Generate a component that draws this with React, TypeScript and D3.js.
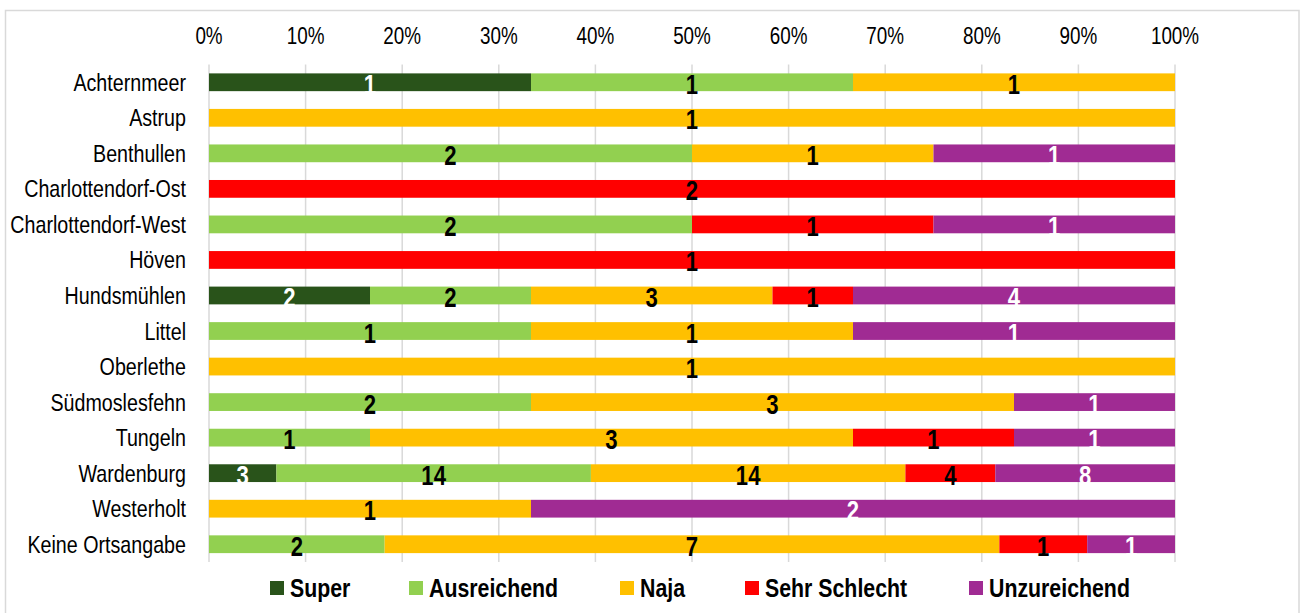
import { useEffect, useRef } from 'react'
import * as d3 from 'd3'

// Locations (top to bottom)
const locations = [
	'Achternmeer',
	'Astrup',
	'Benthullen',
	'Charlottendorf-Ost',
	'Charlottendorf-West',
	'Höven',
	'Hundsmühlen',
	'Littel',
	'Oberlethe',
	'Südmoslesfehn',
	'Tungeln',
	'Wardenburg',
	'Westerholt',
	'Keine Ortsangabe',
]

const categories = ['Super', 'Ausreichend', 'Naja', 'Sehr Schlecht', 'Unzureichend']

// Counts per location, one array per category
const superVals = [1, 0, 0, 0, 0, 0, 2, 0, 0, 0, 0, 3, 0, 0]
const ausreichendVals = [1, 0, 2, 0, 2, 0, 2, 1, 0, 2, 1, 14, 0, 2]
const najaVals = [1, 1, 1, 0, 0, 0, 3, 1, 1, 3, 3, 14, 1, 7]
const sehrSchlechtVals = [0, 0, 0, 2, 1, 1, 1, 0, 0, 0, 1, 4, 0, 1]
const unzureichendVals = [0, 0, 1, 0, 1, 0, 4, 1, 0, 1, 1, 8, 2, 1]

const colors = ['#29531a', '#92d050', '#ffc000', '#ff0000', '#a02b93']
const labelColors = ['#ffffff', '#000000', '#000000', '#000000', '#ffffff']

const tickValues = [0, 0.1, 0.2, 0.3, 0.4, 0.5, 0.6, 0.7, 0.8, 0.9, 1]

// no narrow font installed, so squeeze Liberation Sans horizontally
const FONT = "'Liberation Sans', Arial, sans-serif"
const NARROW = 0.82
const narrow = (x, y) => `translate(${x},${y}) scale(${NARROW},1)`

const App = () => {
	const svgRef = useRef(null)

	useEffect(() => {
		const width = 1304
		const height = 613
		const plot = { left: 209, right: 1175, top: 64.5, bottom: 562 }

		const svg = d3.select(svgRef.current)
		svg.selectAll('*').remove()

		const table = locations.map((loc, i) => ({
			location: loc,
			Super: superVals[i],
			Ausreichend: ausreichendVals[i],
			Naja: najaVals[i],
			'Sehr Schlecht': sehrSchlechtVals[i],
			Unzureichend: unzureichendVals[i],
		}))

		const stacked = d3.stack().keys(categories).offset(d3.stackOffsetExpand)(table)

		const x = d3.scaleLinear().domain([0, 1]).range([plot.left, plot.right])
		const y = d3
			.scaleBand()
			.domain(locations)
			.range([plot.top, plot.bottom])
			.paddingInner(0.5)
			.paddingOuter(0.25)

		// Outer frame
		svg
			.append('rect')
			.attr('x', 5.5)
			.attr('y', 10.5)
			.attr('width', 1293.5)
			.attr('height', 620)
			.attr('fill', 'white')
			.attr('stroke', '#d9d9d9')
			.attr('stroke-width', 1.5)

		// Grid
		svg
			.append('g')
			.selectAll('line')
			.data(tickValues)
			.join('line')
			.attr('x1', (d) => x(d))
			.attr('x2', (d) => x(d))
			.attr('y1', plot.top)
			.attr('y2', plot.bottom)
			.attr('stroke', '#d9d9d9')
			.attr('stroke-width', 1.5)

		// Top tick labels
		svg
			.append('g')
			.selectAll('text')
			.data(tickValues)
			.join('text')
			.attr('transform', (d) => narrow(x(d), 43.5))
			.attr('text-anchor', 'middle')
			.style('font-family', FONT)
			.style('font-size', '23px')
			.text((d) => d3.format('.0%')(d))

		// Row labels
		svg
			.append('g')
			.selectAll('text')
			.data(locations)
			.join('text')
			.attr('transform', (d) => narrow(186, y(d) + y.bandwidth() / 2 + 8.5))
			.attr('text-anchor', 'end')
			.style('font-family', FONT)
			.style('font-size', '24px')
			.text((d) => d)

		// Bars
		const layers = svg
			.append('g')
			.selectAll('g')
			.data(stacked)
			.join('g')
			.attr('fill', (d, i) => colors[i])

		layers
			.selectAll('rect')
			.data((d) => d.filter((s) => s[1] - s[0] > 0))
			.join('rect')
			.attr('x', (d) => x(d[0]))
			.attr('width', (d) => x(d[1]) - x(d[0]))
			.attr('y', (d) => y(d.data.location))
			.attr('height', y.bandwidth())

		// Value labels
		stacked.forEach((layer, i) => {
			svg
				.append('g')
				.selectAll('text')
				.data(layer.filter((s) => s[1] - s[0] > 0))
				.join('text')
				.attr('transform', (d) =>
					narrow(x((d[0] + d[1]) / 2), y(d.data.location) + y.bandwidth() / 2 + 11.5)
				)
				.attr('text-anchor', 'middle')
				.style('font-family', FONT)
				.style('font-size', '27px')
				.style('font-weight', 'bold')
				.style('fill', labelColors[i])
				.text((d) => d.data[layer.key])
		})

		// Legend
		const legendX = [270, 409, 620, 745, 969]
		const legend = svg
			.append('g')
			.selectAll('g')
			.data(categories)
			.join('g')
			.attr('transform', (d, i) => `translate(${legendX[i]},581)`)

		legend
			.append('rect')
			.attr('width', 14)
			.attr('height', 14)
			.attr('fill', (d, i) => colors[i])

		legend
			.append('text')
			.attr('transform', narrow(20, 16))
			.style('font-family', FONT)
			.style('font-size', '26px')
			.style('font-weight', 'bold')
			.text((d) => d)

		svg.attr('width', width).attr('height', height)
	}, [])

	return (
		<svg
			ref={svgRef}
			style={{ position: 'absolute', left: 0, top: 0, display: 'block' }}
		></svg>
	)
}

export default App
